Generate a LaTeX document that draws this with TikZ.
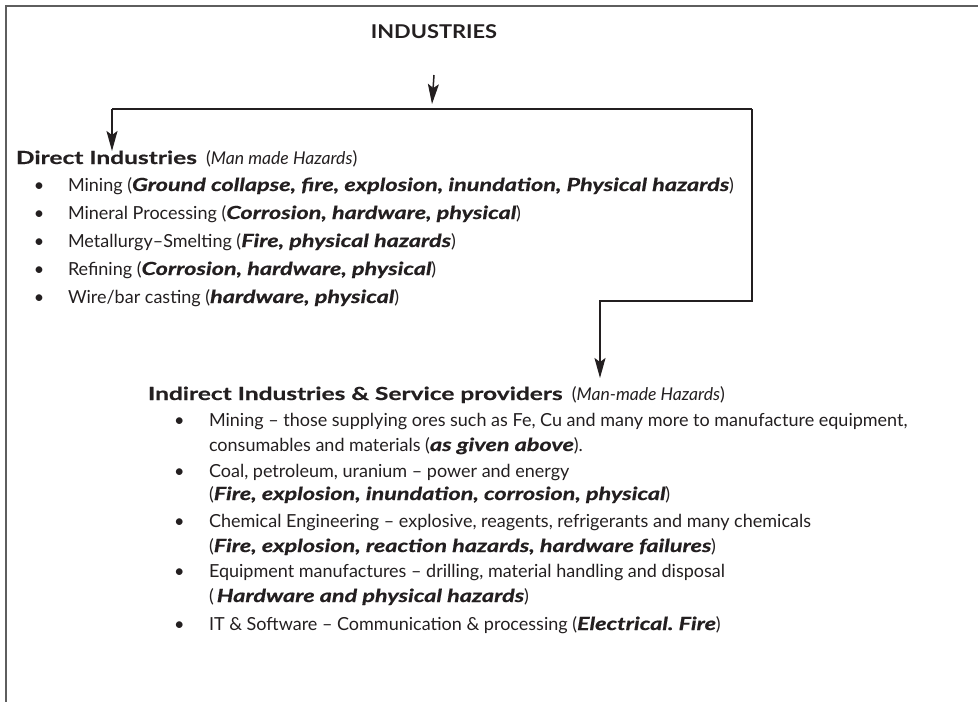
\documentclass[tikz,border=0pt]{standalone}
\usepackage{fontspec}
\setmainfont{Lato}
% wide, heavy bold faces for a Gill-like rhythm
\newfontfamily\titlefam[FakeStretch=1.15]{Lato}
\newfontfamily\headfam[FakeStretch=1.36,FakeBold=0.6]{Lato}
\newfontfamily\hazfam[FakeStretch=1.30,FakeBold=0.6]{Lato}
\usetikzlibrary{arrows.meta}
\definecolor{ink}{HTML}{231F20}
\definecolor{framegray}{HTML}{5E5E5E}
\newcommand{\hz}[1]{{\hazfam\bfseries\itshape #1}}
\newcommand{\hd}[1]{{\headfam\bfseries #1}}
\newcommand{\slim}[1]{{\fontsize{17.6}{21}\selectfont\itshape #1}}
\frenchspacing
\begin{document}
\begin{tikzpicture}[x=1pt,y=-1pt,
  every node/.style={inner sep=0pt, outer sep=0pt, text=ink,
    font=\fontsize{18}{21}\selectfont},
  line/.style={draw=ink, line width=1.5pt},
  flow/.style={line, -{Stealth[length=20pt,width=11pt,inset=4pt]}},
  framing/.style={draw=framegray, line width=2pt},
  txt/.style={anchor=base west},
  bul/.style={anchor=base west}]
\useasboundingbox (0,0) rectangle (978,702);
% outer frame (open at right and bottom)
\draw[framing] (5.5,702) -- (5.5,6) -- (978,6);

% title
\node[font=\fontsize{19}{22}\selectfont\titlefam\bfseries] (ind) at (434,32) {INDUSTRIES};

% branching coordinates
\coordinate (split) at (432,104);
\coordinate (bl) at (112,109);
\coordinate (br) at (752,109);
\coordinate (bd) at (752,301);
\coordinate (bi) at (600,301);
\coordinate (tipA) at (112,151);
\coordinate (tipB) at (600,378);

% direct industries
\node[txt] (dh) at (16,164) {\hd{Direct Industries}\ \ (\slim{Man made Hazards})};
\foreach \y/\t [count=\i] in {
  191/{Mining (\hz{Ground collapse, fire, explosion, inundation, Physical hazards})},
  219/{Mineral Processing (\hz{Corrosion, hardware, physical})},
  247/{Metallurgy–Smelting (\hz{Fire, physical hazards})},
  275/{Refining (\hz{Corrosion, hardware, physical})},
  303/{Wire/bar casting (\hz{hardware, physical})}}{
  \node[bul] (db\i) at (34,\y) {•};
  \node[txt] (d\i) at (68,\y) {\t};
}

% indirect industries
\node[txt] (ih) at (148,400) {\hd{Indirect Industries \& Service providers}\ \ (\slim{Man-made Hazards})};
\foreach \y/\t [count=\i] in {
  426/{Mining – those supplying ores such as Fe, Cu and many more to manufacture equipment,},
  477/{Coal, petroleum, uranium – power and energy},
  527/{Chemical Engineering – explosive, reagents, refrigerants and many chemicals},
  577/{Equipment manufactures – drilling, material handling and disposal},
  630/{IT \& Software – Communication \& processing (\hz{Electrical. Fire})}}{
  \node[bul] (ib\i) at (174,\y) {•};
  \node[txt] (i\i) at (209,\y) {\t};
}
\node[txt] (i1b) at (209,451) {consumables and materials (\hz{as given above}).};
\node[txt] (i2b) at (209,500) {(\hz{Fire, explosion, inundation, corrosion, physical})};
\node[txt] (i3b) at (209,552) {(\hz{Fire, explosion, reaction hazards, hardware failures})};
\node[txt] (i4b) at (209,602) {(\,\hz{Hardware and physical hazards})};

% connectors
\draw[flow] (ind.south |- 0,75) -- (split);
\draw[line] (bl) -- (br);
\draw[flow] (bl) -- (tipA);
\draw[flow] (br) -- (bd) -- (bi) -- (tipB);
\end{tikzpicture}
\end{document}
